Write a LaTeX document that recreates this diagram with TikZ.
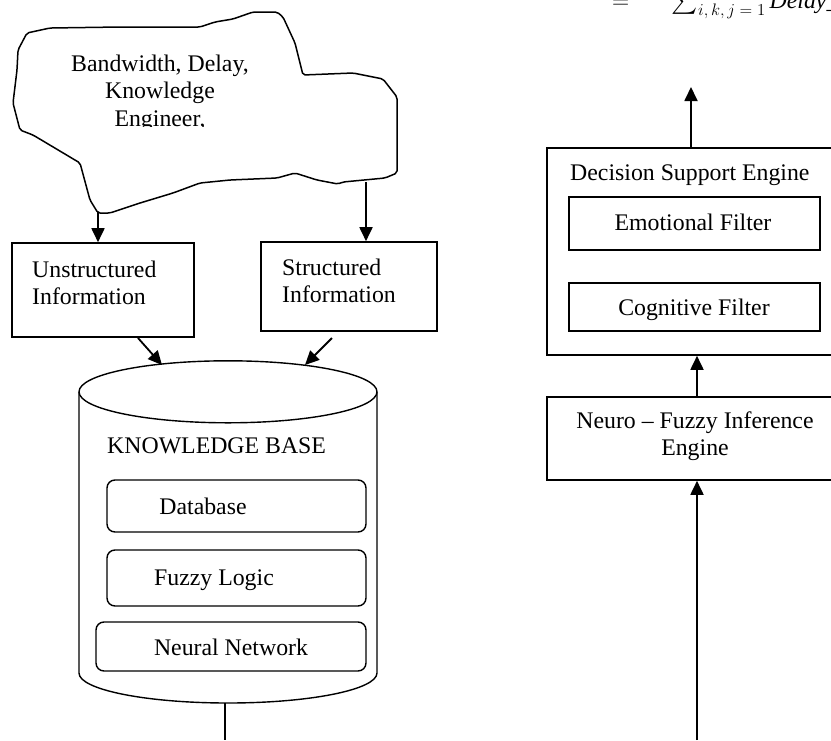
\RequirePackage{fix-cm}
\documentclass[tikz,border=0pt]{standalone}
\usepackage{exscale}
\usepackage{fontspec}
\setmainfont{Liberation Serif}
\usetikzlibrary{arrows.meta}
\newcommand\ctrlines[1]{\vtop{\halign{\hfil##\hfil\cr#1\crcr}}}
\newcommand\leftlines[1]{\vtop{\halign{##\hfil\cr#1\crcr}}}
\begin{document}
\begin{tikzpicture}[x=1pt,y=-1pt,
  every node/.style={font=\fontsize{23.8}{27.5}\selectfont, inner sep=0pt},
  box/.style={draw, line width=1.6pt},
  rbox/.style={draw, line width=1.4pt, rounded corners=8pt},
  arr/.style={line width=1.8pt, -{Triangle[width=13pt,length=14pt]}},
  plain/.style={line width=1.4pt}]
\useasboundingbox (0,0) rectangle (831,740);
\clip (0,0) rectangle (831,740);

% formula (cut off at top, as in the reference)
\node[anchor=base west] (formula) at (612,8)
  {$=\hspace{36pt}\sum_{i,\,k,\,j\;=\;1}\mathit{Delay}\_$};

% cloud
\draw[line width=1.5pt, line join=round, rounded corners=2pt]
  (27,33) -- (50,28) -- (120,27) -- (200,27) -- (215,22) -- (233,19) -- (253,12)
  -- (277,12) -- (283,17) -- (295,43) -- (303,75) -- (353,73) -- (383,79)
  -- (397,97) -- (397,173) -- (385,178) -- (343,182) -- (338,184) -- (317,180)
  -- (295,173) -- (277,178) -- (230,180) -- (200,183) -- (173,193) -- (140,203)
  -- (110,213) -- (98,213) -- (90,200) -- (80,163) -- (33,135) -- (20,130)
  -- (13,103) -- (17,70) -- (18,50) -- cycle;
\begin{scope}
  \clip (0,0) rectangle (400,126.5);
  \node[anchor=base] (cloudtext) at (160,71) {\ctrlines{Bandwidth, Delay,\cr Knowledge\cr Engineer,}};
\end{scope}
\coordinate (cl1) at (98,212);
\coordinate (cl2) at (366,182);

% information boxes
\node[box, minimum width=182pt, minimum height=94pt] (un) at (103,290) {};
\node[anchor=base west] (untext) at (32,277) {\leftlines{Unstructured\cr Information}};
\node[box, minimum width=176pt, minimum height=89pt] (st) at (349,286.5) {};
\node[anchor=base west] (sttext) at (282,275) {\leftlines{Structured\cr Information}};

\draw[arr] (cl1) -- (cl1 |- un.north);
\draw[arr] (cl2) -- (cl2 |- st.north);

% knowledge base cylinder
\node[minimum width=298pt, minimum height=341pt] (kb) at (228,532.5) {};
\draw[plain] (kb.north) ++(0,30) ellipse [x radius=149, y radius=31];
\draw[plain] (79,392) -- (79,673) arc[start angle=180, end angle=0, x radius=149, y radius=30] -- (377,392);
\node[anchor=base west] (kbtext) at (107,453) {KNOWLEDGE BASE};

\node[rbox, minimum width=259pt, minimum height=52pt] (db) at (236.5,506) {};
\node[anchor=base] (dbtext) at (203,514) {Database};
\node[rbox, minimum width=259pt, minimum height=56pt] (fl) at (236.5,578) {};
\node[anchor=base] (fltext) at (214,585) {Fuzzy Logic};
\node[rbox, minimum width=270pt, minimum height=49pt] (nn) at (231,646.5) {};
\node[anchor=base] (nntext) at (231,655) {Neural Network};

\coordinate (unout) at (138,338);
\coordinate (kbin1) at (162,365);
\coordinate (stout) at (332,338);
\coordinate (kbin2) at (305,365);
\draw[arr] (unout) -- (kbin1);
\draw[arr] (stout) -- (kbin2);
\coordinate (kbout) at (225,740);
\draw[plain] ([xshift=-3pt]kb.south) -- (kbout);

% right side
\node[box, minimum width=303pt, minimum height=207pt] (dse) at (698.5,251.5) {};
\node[anchor=base west] (dsetext) at (570,180) {Decision Support Engine};
\node[box, minimum width=251pt, minimum height=53pt] (ef) at (694.5,223.5) {};
\node[anchor=base] (eftext) at (693,230) {Emotional Filter};
\node[box, minimum width=251pt, minimum height=48pt] (cf) at (694.5,307) {};
\node[anchor=base] (cftext) at (694,315) {Cognitive Filter};
\node[box, minimum width=303pt, minimum height=83pt] (nf) at (698.5,438.5) {};
\node[anchor=base] (nftext) at (695,428) {\ctrlines{Neuro – Fuzzy Inference\cr Engine}};

\coordinate (outtop) at (691,87);
\draw[arr] (outtop |- dse.north) -- (outtop);
\draw[arr] (697,397) coordinate (nfn) -- (nfn |- dse.south);
\coordinate (inbot) at (697,740);
\draw[arr] (inbot) -- (inbot |- nf.south);
\end{tikzpicture}
\end{document}
